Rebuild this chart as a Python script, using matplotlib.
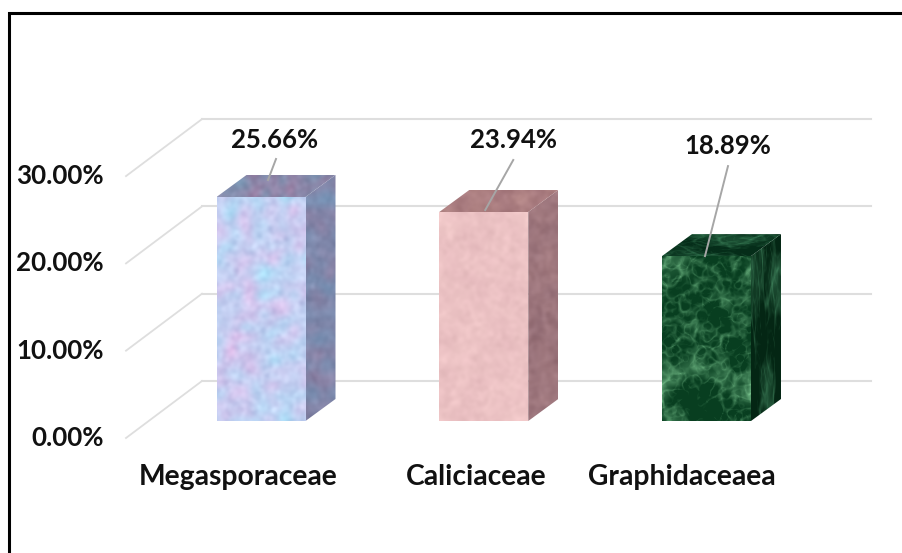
import numpy as np
import matplotlib
matplotlib.use('Agg')
import matplotlib.pyplot as plt
from matplotlib.patches import Polygon

plt.rcParams['font.family'] = ['Lato', 'DejaVu Sans']

families = ['Megasporaceae', 'Caliciaceae', 'Graphidaceaea']
shares = [25.66, 23.94, 18.89]
y_ticks = [0, 10, 20, 30]
y_tick_labels = ['0.00%', '10.00%', '20.00%', '30.00%']

W, H = 903, 553
X0, X_STEP = 261.0, 222.75   # pixel position of first category, pixels per category
Y0, Y_STEP = 421.0, 8.73     # pixel row of the bar floor, pixels per percent
DEPTH_X, DEPTH_Y = 30, 22    # bar depth in pixels
BAR_W = 89

rng = np.random.default_rng(7)


def px_x(p):
    return p / X_STEP


def px_y(p):
    return p / Y_STEP


def smooth_noise(h, w, scale_y, scale_x=None):
    # low-pass filtered noise, normalised to 0..1
    scale_x = scale_y if scale_x is None else scale_x
    f = np.fft.fft2(rng.normal(size=(h, w)))
    fy = np.fft.fftfreq(h)[:, None]
    fx = np.fft.fftfreq(w)[None, :]
    f *= np.exp(-((fx * scale_x) ** 2 + (fy * scale_y) ** 2) * 20)
    n = np.fft.ifft2(f).real
    return (n - n.min()) / (n.max() - n.min())


def pastel_marble(h, w, base, other, dark):
    a = smooth_noise(h, w, 5)[..., None]
    b = smooth_noise(h, w, 2)[..., None]
    img = np.array(base) * (1 - a) + np.array(other) * a
    img = img + (b - 0.5) * np.array(dark)
    return np.clip(img, 0, 255).astype(np.uint8)


def vein_marble(h, w, dark, light, scale_y=1.0, scale_x=1.0):
    v = np.zeros((h, w))
    for scale, amp in [(6, 1.0), (3, 0.7), (1.8, 0.4)]:
        n = smooth_noise(h, w, scale * scale_y, scale * scale_x)
        v += amp * np.clip(1 - np.abs(n - 0.5) * 8, 0, 1)
    cloud = smooth_noise(h, w, 9 * scale_y, 9 * scale_x)
    v = np.clip(v * 0.3 + (cloud - 0.55) * 0.8, 0, 1)[..., None]
    img = np.array(dark) * (1 - v) + np.array(light) * v
    return np.clip(img, 0, 255).astype(np.uint8)


def textured_face(ax, corners, image):
    xs = [c[0] for c in corners]
    ys = [c[1] for c in corners]
    clip = Polygon(corners, closed=True, transform=ax.transData, fc='none', ec='none')
    ax.add_patch(clip)
    im = ax.imshow(image, extent=(min(xs), max(xs), min(ys), max(ys)), origin='upper',
                   aspect='auto', interpolation='bilinear', zorder=3)
    im.set_clip_path(clip)


def draw_bar(ax, i, value, faces):
    half = px_x(BAR_W) / 2
    dx, dy = px_x(DEPTH_X), px_y(DEPTH_Y)
    left, right = i - half, i + half
    front = [(left, 0), (right, 0), (right, value), (left, value)]
    side = [(right, 0), (right + dx, dy), (right + dx, value + dy), (right, value)]
    top = [(left, value), (right, value), (right + dx, value + dy), (left + dx, value + dy)]
    textured_face(ax, front, faces[0])
    textured_face(ax, side, faces[1])
    textured_face(ax, top, faces[2])


fig = plt.figure(figsize=(W / 100, H / 100), dpi=100)
ax = fig.add_axes([0, 0, 1, 1])
ax.set_xlim(-X0 / X_STEP, (W - X0) / X_STEP)
ax.set_ylim((Y0 - H) / Y_STEP, Y0 / Y_STEP)

# back wall gridlines and the floor/side diagonals
wall_left = px_x(202 - X0)
wall_right = px_x(871 - X0)
front_x = px_x(126 - X0)
wall_lift = px_y(Y0 - 381)
front_drop = px_y(Y0 - 438)
for t in y_ticks:
    ax.plot([wall_left, wall_right], [t + wall_lift] * 2, color='#dedede', lw=1.5, zorder=1)
    ax.plot([front_x, wall_left], [t + front_drop, t + wall_lift], color='#dedede', lw=1.3, zorder=1)

for t, lab in zip(y_ticks, y_tick_labels):
    ax.text(px_x(104 - X0), t + front_drop, lab, ha='right', va='center',
            fontsize=18.7, fontweight='bold', color='#111111')

blue = [
    pastel_marble(224, 89, (172, 222, 248), (222, 192, 236), (40, 40, 30)),
    pastel_marble(224, 30, (118, 145, 180), (140, 130, 165), (30, 30, 30)),
    pastel_marble(22, 119, (122, 148, 178), (155, 132, 168), (25, 25, 25)),
]
pink = [
    pastel_marble(209, 89, (242, 202, 202), (230, 187, 190), (18, 18, 18)),
    pastel_marble(209, 30, (165, 125, 130), (150, 112, 120), (22, 22, 22)),
    pastel_marble(22, 119, (180, 135, 135), (165, 120, 125), (18, 18, 18)),
]
green = [
    vein_marble(165, 89, (8, 62, 32), (130, 205, 150)),
    vein_marble(165, 30, (4, 38, 20), (70, 140, 100), scale_y=2.5, scale_x=0.5),
    vein_marble(22, 119, (5, 45, 25), (60, 130, 90), scale_y=0.4, scale_x=1.5),
]

for i, (value, faces) in enumerate(zip(shares, [blue, pink, green])):
    draw_bar(ax, i, value, faces)

# data labels, pixel offsets from the top centre of each bar
label_offsets = [(14, 57), (29.5, 72), (21.5, 110)]
leader_starts = [(7, 17), (1.5, 2), (-1.5, 0)]
leader_ends = [(15, 38), (29.5, 52), (21.5, 90)]
for i, value in enumerate(shares):
    lx, ly = label_offsets[i]
    ax.text(i + px_x(lx), value + px_y(ly), f'{value:.2f}%', ha='center', va='center',
            fontsize=18.5, fontweight='bold', color='#111111', zorder=5)
    sx, sy = leader_starts[i]
    ex, ey = leader_ends[i]
    ax.plot([i + px_x(sx), i + px_x(ex)], [value + px_y(sy), value + px_y(ey)],
            color='#a6a6a6', lw=1.4, zorder=4)

name_offsets = [-23, -8, -24.5]
for i, name in enumerate(families):
    ax.text(i + px_x(name_offsets[i]), px_y(Y0 - 477), name,
            ha='center', va='center', fontsize=20.3, fontweight='bold', color='#111111')

ax.set_xticks([])
ax.set_yticks([])
for name, spine in ax.spines.items():
    spine.set_visible(False)

# outer frame: only the top and left edges are drawn
ax.plot(px_x(np.array([903, 9, 9]) - X0), px_y(Y0 - np.array([13, 13, 553])),
        color='black', lw=2.2, zorder=6, solid_joinstyle='miter')

fig.savefig('out.png', dpi=100, facecolor='white')
